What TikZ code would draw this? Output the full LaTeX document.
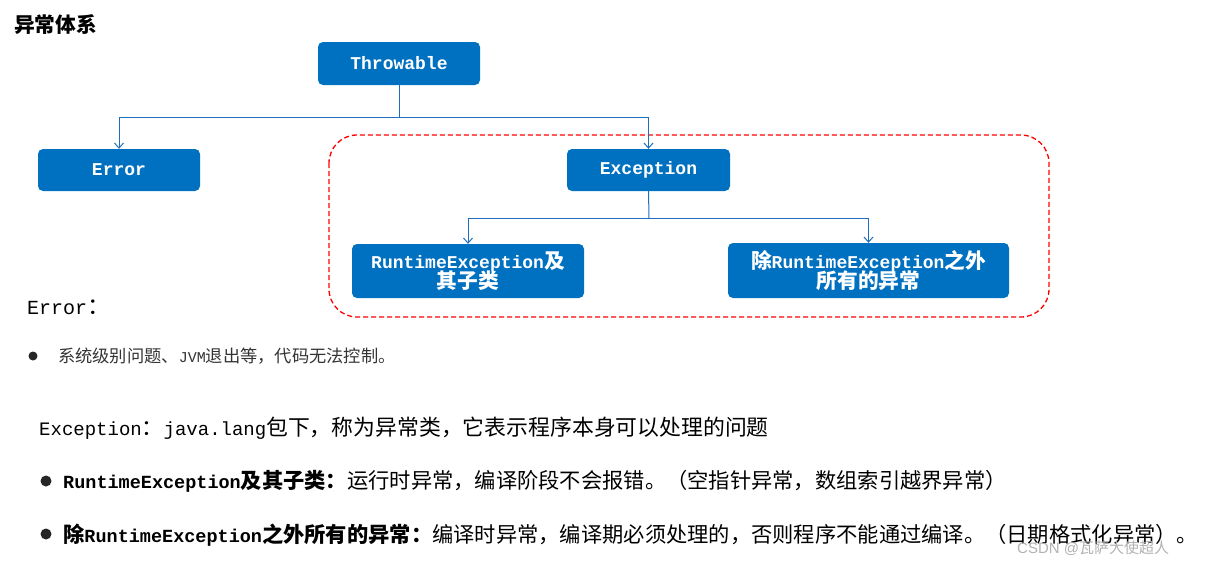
\documentclass[tikz,border=0pt]{standalone}
\usetikzlibrary{arrows.meta}
\usepackage{fontspec}
\setmainfont{Liberation Mono}
\newfontfamily\zhf[Scale=1.15]{Noto Sans CJK SC}
\newcommand\z[1]{{\zhf #1}}
\definecolor{boxblue}{RGB}{0,112,192}
\definecolor{lineblue}{RGB}{30,110,190}
\tikzset{
  cls/.style={fill=boxblue, rounded corners=5pt, text=white, font=\fontsize{18}{21}\selectfont\bfseries, align=center, inner sep=0pt},
  conn/.style={draw=lineblue, line width=1pt, -{Straight Barb[length=5pt,width=9pt]}},
  plain/.style={draw=lineblue, line width=1pt},
  txt/.style={anchor=west, inner sep=0pt, text=black}
}
\begin{document}
\begin{tikzpicture}[x=1pt,y=-1pt]
\useasboundingbox (0,0) rectangle (1224,565);
\node[txt, font=\fontsize{18}{22}\selectfont\bfseries] (title) at (14,25) {\z{异常体系}};
\draw[red, dash pattern=on 5pt off 3pt, line width=1.3pt, rounded corners=28pt] (329,135) rectangle (1049,317);
\node[cls, minimum width=162pt, minimum height=43pt] (thr) at (399,63.5) {Throwable};
\node[cls, minimum width=162pt, minimum height=42pt] (err) at (119,170) {Error};
\node[cls, minimum width=163pt, minimum height=42pt] (exc) at (648.5,170) {Exception};
\node[cls, minimum width=232pt, minimum height=54pt] (rte) at (468,271) {RuntimeException\z{及}\\[-3pt]\z{其子类}};
\node[cls, minimum width=281pt, minimum height=55pt] (oth) at (868.5,270.5) {\z{除}RuntimeException\z{之外}\\[-3pt]\z{所有的异常}};
\coordinate (j1) at (399,117);
\coordinate (j2) at (649,218);
\draw[plain] (thr.south) -- (j1);
\draw[conn] (j1) -| (err.north);
\draw[conn] (j1) -| (exc.north);
\draw[plain] (exc.south) -- (j2);
\draw[conn] (j2) -| (rte.north);
\draw[conn] (j2) -| (oth.north);
\node[txt, font=\fontsize{20}{24}\selectfont] (l1) at (27,307) {Error\z{：}};
\node[circle, fill=black!85, inner sep=0pt, minimum size=9pt] (b1) at (33,356) {};
\node[txt, font=\fontsize{15}{18}\selectfont, text=black!80] (l2) at (58,356) {\z{系统级别问题、}JVM\z{退出等，代码无法控制。}};
\node[txt, font=\fontsize{19}{22}\selectfont] (l3) at (39,428) {Exception\z{：}java.lang\z{包下，称为异常类，它表示程序本身可以处理的问题}};
\node[circle, fill=black!85, inner sep=0pt, minimum size=11pt] (b2) at (46,481) {};
\node[txt, font=\fontsize{18.5}{22}\selectfont] (l4) at (63,481) {\textbf{RuntimeException\z{及其子类：}}\z{运行时异常，编译阶段不会报错。（空指针异常，数组索引越界异常）}};
\node[circle, fill=black!85, inner sep=0pt, minimum size=11pt] (b3) at (46,534) {};
\node[txt, font=\fontsize{18.5}{22}\selectfont] (l5) at (63,535) {\textbf{\z{除}RuntimeException\z{之外所有的异常：}}\z{编译时异常，编译期必须处理的，否则程序不能通过编译。（日期格式化异常）。}};
\node[txt, font=\fontsize{15}{18}\selectfont, text=black!30] (wm) at (1017,548) {\fontspec{Liberation Sans}CSDN @{\fontspec{Noto Sans CJK SC}瓦萨大使超人}};
\end{tikzpicture}
\end{document}
